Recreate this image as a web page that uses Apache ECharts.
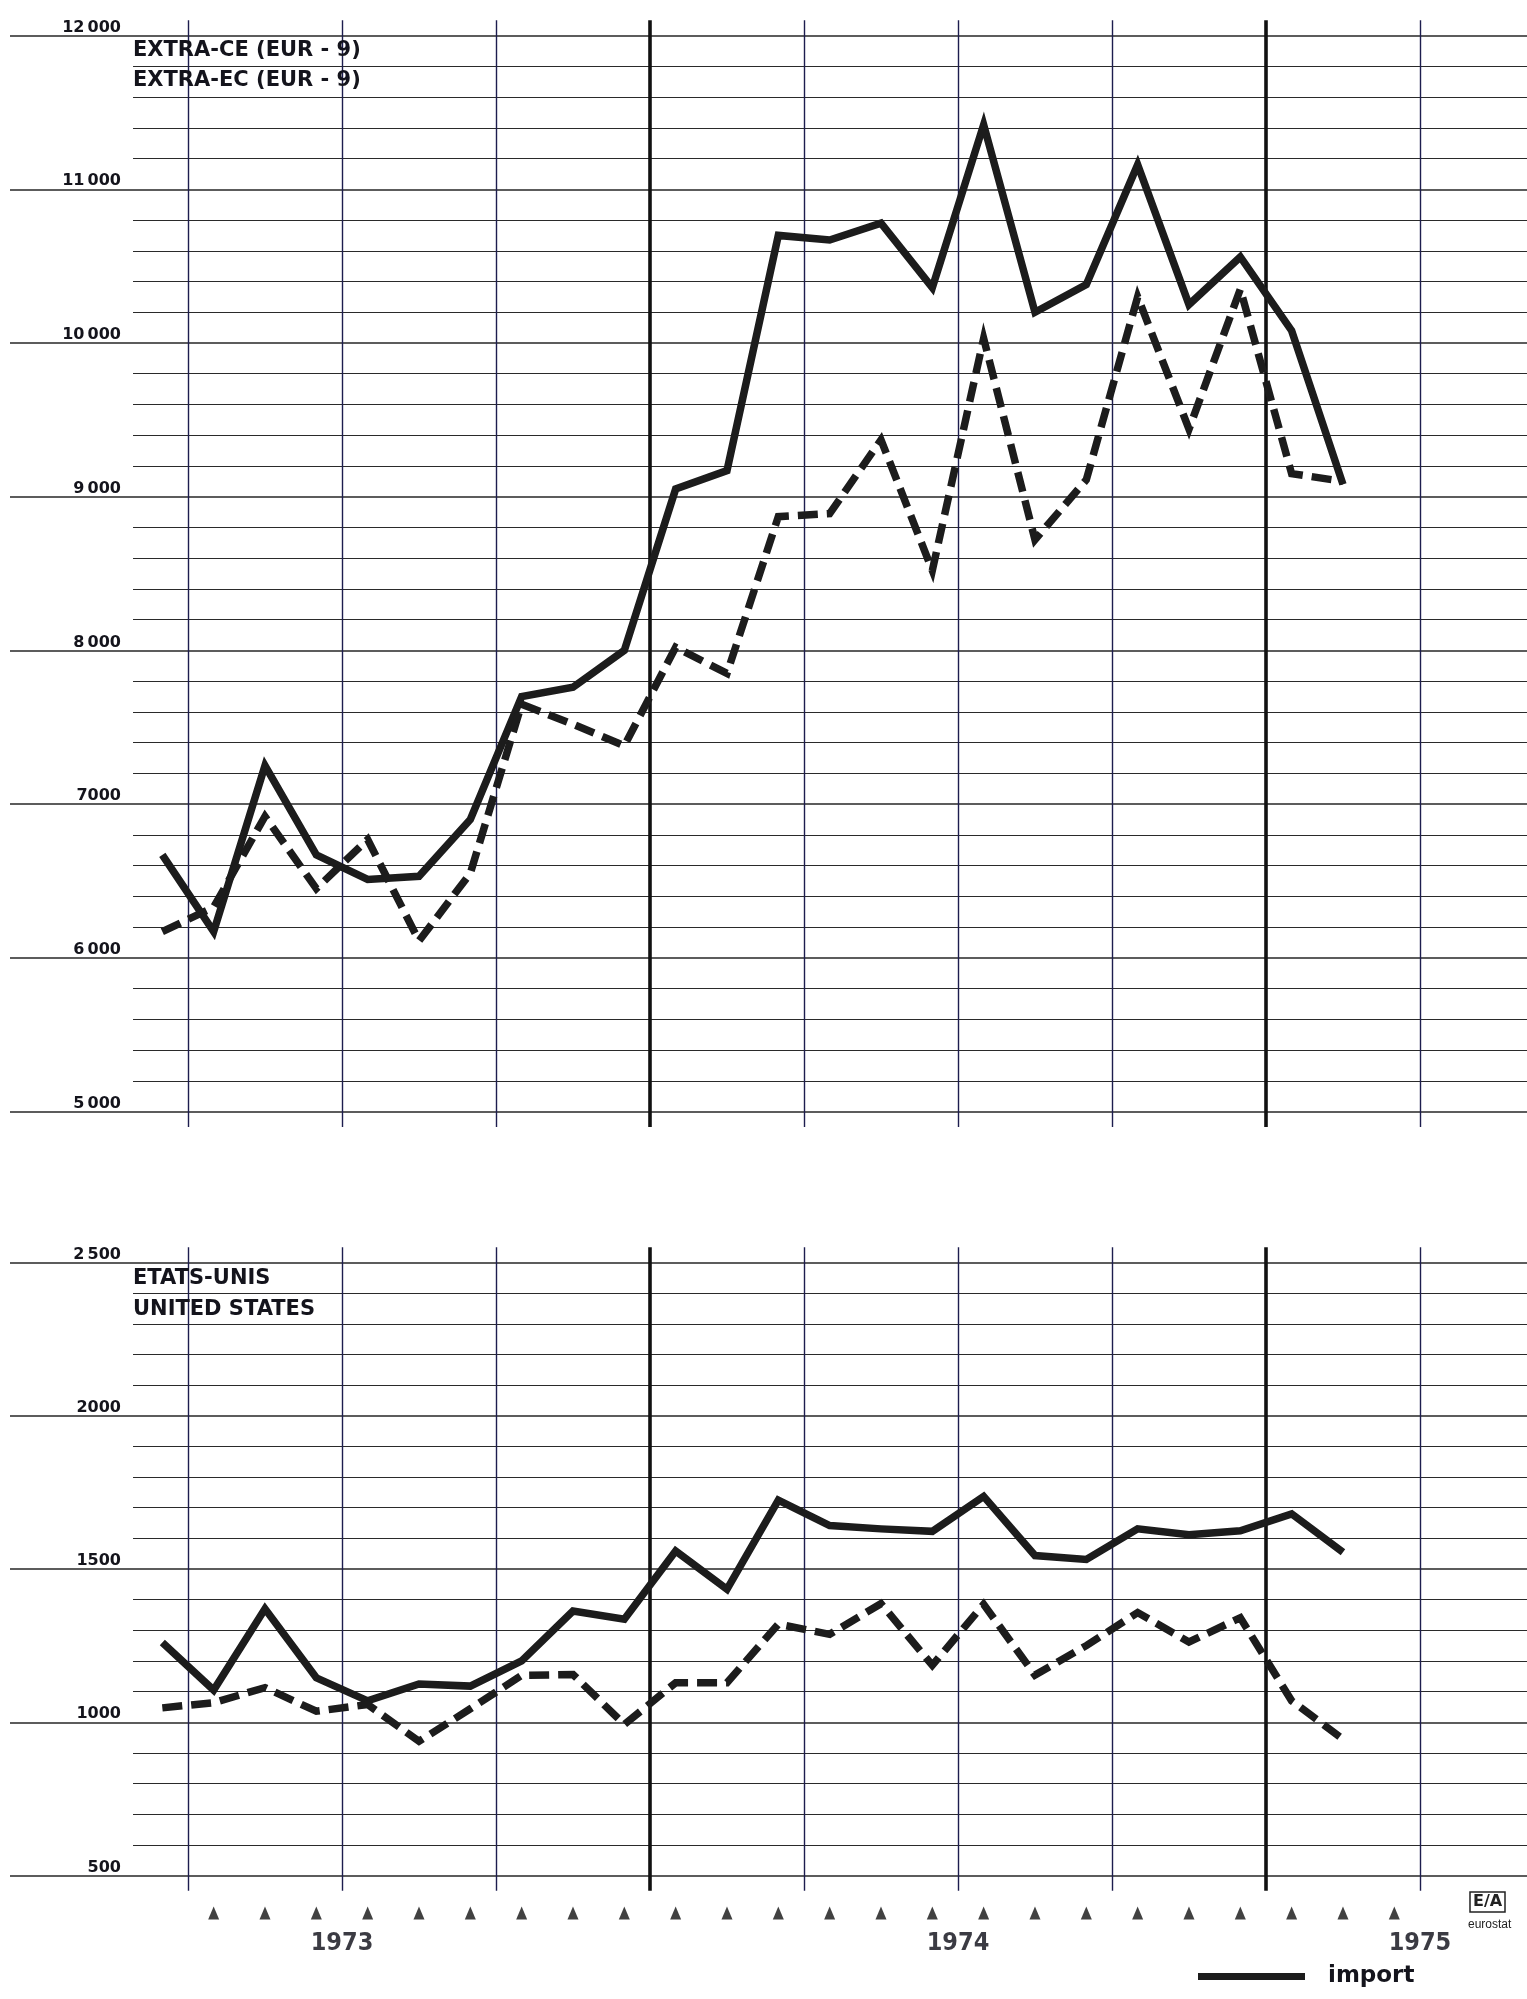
<!DOCTYPE html>
<html><head><meta charset="utf-8">
<script src="https://cdn.jsdelivr.net/npm/echarts@6/dist/echarts.min.js"></script>
<style>html,body{margin:0;padding:0;background:#fff}#c{width:1527px;height:1999px}</style>
</head><body><div id="c"></div>
<script>
// month index 0..23 (monthly observations)
const months = [0,1,2,3,4,5,6,7,8,9,10,11,12,13,14,15,16,17,18,19,20,21,22,23];
// EXTRA-CE (EUR-9), Mio EUR
const extraImport = [6670,6170,7250,6670,6510,6530,6900,7700,7760,8000,9050,9170,10700,10670,10780,10360,11420,10200,10380,11160,10250,10560,10080,9080];
const extraExport = [6170,6330,6920,6450,6770,6110,6550,7650,7520,7380,8020,7850,8870,8890,9370,8520,10030,8720,9110,10300,9440,10350,9150,9100];
// ETATS-UNIS / UNITED STATES
const usImport = [1260,1105,1370,1145,1070,1125,1118,1200,1363,1336,1559,1434,1725,1642,1631,1623,1737,1544,1531,1631,1612,1625,1680,1555];
const usExport = [1047,1064,1113,1036,1058,938,1044,1153,1156,993,1129,1129,1320,1287,1387,1186,1385,1154,1250,1358,1262,1341,1070,945];

const topTicks = [5000,6000,7000,8000,9000,10000,11000,12000];
const topTickLabels = ['5\u2009000','6\u2009000','7000','8\u2009000','9\u2009000','10\u2009000','11\u2009000','12\u2009000'];
const bottomTicks = [500,1000,1500,2000,2500];
const bottomTickLabels = ['500','1000','1500','2000','2\u2009500'];
const quarterLines = [0.5,3.5,6.5,9.5,12.5,15.5,18.5,21.5,24.5];
const heavyLines = [9.5,21.5];
const monthMarks = [1,2,3,4,5,6,7,8,9,10,11,12,13,14,15,16,17,18,19,20,21,22,23,24];
const yearLabels = ['1973','1974','1975'];
const yearPos = [3.5,15.5,24.5];

const X_MIN = -2.9675, X_MAX = 26.585, X_MINOR_START = -0.571;
const INK = '#14141c';

function gridMarks(majors, nMinor){
  const d = [];
  const step = (majors[1]-majors[0])/(nMinor+1);
  majors.forEach(v => d.push({yAxis: v, lineStyle:{color:'#262626', width:1.5, type:'solid'}}));
  for (let k=0;k<majors.length-1;k++){
    for (let j=1;j<=nMinor;j++){
      const v = majors[k]+j*step;
      d.push([{coord:[X_MINOR_START, v], lineStyle:{color:'#2a2a2a', width:1.2, type:'solid'}},{coord:[X_MAX-0.0001, v]}]);
    }
  }
  quarterLines.forEach(x => {
    const heavy = heavyLines.indexOf(x) >= 0;
    d.push({xAxis:x, lineStyle:{color: heavy ? '#111' : '#1d1d4e', width: heavy ? 3.6 : 1.4, type:'solid'}});
  });
  return d;
}
function gridSeries(ax, majors, nMinor){
  return {type:'line', xAxisIndex:ax, yAxisIndex:ax, data:[], silent:true, z:1,
    markLine:{silent:true, z:1, symbol:['none','none'], label:{show:false}, animation:false,
      emphasis:{disabled:true}, data: gridMarks(majors, nMinor)}};
}
function dataSeries(ax, name, vals, dashed){
  return {type:'line', name:name, xAxisIndex:ax, yAxisIndex:ax, z:3, symbol:'none',
    data: months.map((m,i)=>[m, vals[i]]), color:'#1c1c1c',
    lineStyle:{color:'#1c1c1c', width:7.5, type: dashed ? [20,9] : 'solid', cap:'butt', join:'miter'},
    emphasis:{disabled:true}};
}
const hiddenX = (min,max) => ({type:'value', min:min, max:max, show:false});
const labelY = (gi, min, max, interval, ticks, labels) => ({type:'value', gridIndex:gi, min:min, max:max, interval:interval,
  axisLine:{show:false}, axisTick:{show:false}, splitLine:{show:false},
  axisLabel:{show:true, margin:0, verticalAlign:'bottom', color:INK, fontFamily:'DejaVu Sans', fontWeight:'bold', fontSize:16,
    formatter: v => labels[ticks.indexOf(v)] || ''}});

const chart = echarts.init(document.getElementById('c'), null, {renderer:'canvas'});
chart.setOption({
  animation:false,
  backgroundColor:'#ffffff',
  title:[
    {text:'Mio EUR', left:45, top:-12, padding:0, textStyle:{fontFamily:'DejaVu Sans', fontWeight:'bold', fontSize:15, color:INK}},
    {text:'EXTRA-CE (EUR - 9)\nEXTRA-EC (EUR - 9)', left:133, top:35.5, padding:0,
      textStyle:{fontFamily:'DejaVu Sans', fontWeight:'bold', fontSize:21, lineHeight:30, color:INK}},
    {text:'ETATS-UNIS\nUNITED STATES', left:133, top:1263.5, padding:0,
      textStyle:{fontFamily:'DejaVu Sans', fontWeight:'bold', fontSize:21, lineHeight:30.7, color:INK}},
    {text:'E/A', left:1470, top:1892, padding:[2,3], borderWidth:1.5, borderColor:'#222',
      textStyle:{fontFamily:'DejaVu Sans', fontWeight:'bold', fontSize:16, color:'#222'}},
    {text:'eurostat', left:1468, top:1919, padding:0,
      textStyle:{fontFamily:'Liberation Sans Narrow, Liberation Sans, sans-serif', fontWeight:'normal', fontSize:12, color:'#222'}}
  ],
  legend:{data:['import'], left:1198, top:1965, padding:0, icon:'rect', itemWidth:107, itemHeight:7,
    selectedMode:false, textStyle:{fontFamily:'DejaVu Sans', fontWeight:'bold', fontSize:23, color:INK, padding:[0,0,0,18]}},
  grid:[
    {left:10, right:0, top:20.2, height:1106.7},
    {left:121, width:1, top:35.6, height:1075.9},
    {left:10, right:0, top:1247.2, height:643.65},
    {left:121, width:1, top:1262.5, height:613},
    {left:10, right:0, top:1905, height:16}
  ],
  xAxis:[
    Object.assign(hiddenX(X_MIN,X_MAX),{gridIndex:0}),
    Object.assign(hiddenX(0,1),{gridIndex:1}),
    Object.assign(hiddenX(X_MIN,X_MAX),{gridIndex:2}),
    Object.assign(hiddenX(0,1),{gridIndex:3}),
    Object.assign(hiddenX(X_MIN,X_MAX),{gridIndex:4})
  ],
  yAxis:[
    {type:'value', gridIndex:0, min:4900, max:12100, show:false},
    labelY(1, 5000, 12000, 1000, topTicks, topTickLabels),
    {type:'value', gridIndex:2, min:450, max:2550, show:false},
    labelY(3, 500, 2500, 500, bottomTicks, bottomTickLabels),
    {type:'value', gridIndex:4, min:0, max:1, show:false}
  ],
  series:[
    gridSeries(0, topTicks, 4),
    gridSeries(2, bottomTicks, 4),
    dataSeries(0, 'import', extraImport, false),
    dataSeries(0, 'export', extraExport, true),
    dataSeries(2, 'import', usImport, false),
    dataSeries(2, 'export', usExport, true),
    {type:'scatter', xAxisIndex:4, yAxisIndex:4, symbol:'triangle', symbolSize:[11,13], silent:true,
      itemStyle:{color:'#111'}, data: monthMarks.map(m=>[m,0.5])},
    {type:'scatter', xAxisIndex:4, yAxisIndex:4, symbolSize:0, silent:true,
      data: yearPos.map((x,i)=>({name:yearLabels[i], value:[x,0.5]})),
      label:{show:true, position:'inside', offset:[0,30], formatter:'{b}', color:'#0a0a14',
        fontFamily:'DejaVu Sans Condensed, Liberation Sans Narrow, sans-serif', fontWeight:'bold', fontSize:25}}
  ]
});
</script></body></html>
